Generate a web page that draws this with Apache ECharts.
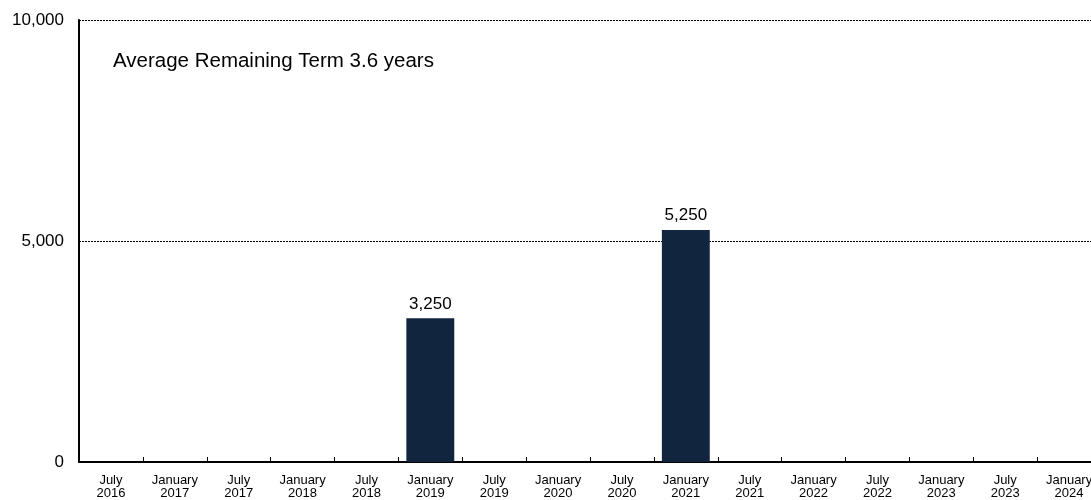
<!DOCTYPE html>
<html>
<head>
<meta charset="utf-8">
<script src="https://cdn.jsdelivr.net/npm/echarts@6/dist/echarts.min.js"></script>
<style>html,body{margin:0;padding:0;background:#fff}#c{width:1091px;height:500px}</style>
</head>
<body>
<div id="c"></div>
<script>
const categories = ["July\n2016","January\n2017","July\n2017","January\n2018","July\n2018","January\n2019","July\n2019","January\n2020","July\n2020","January\n2021","July\n2021","January\n2022","July\n2022","January\n2023","July\n2023","January\n2024"];
const values = [null,null,null,null,null,3250,null,null,null,5250,null,null,null,null,null,null];
const yTicks = [0, 5000, 10000];
const annotation = "Average Remaining Term 3.6 years";

const FONT = 'Liberation Sans, Arial, sans-serif';
const chart = echarts.init(document.getElementById('c'));
const fmt = v => v.toLocaleString('en-US');
chart.setOption({
  animation: false,
  textStyle: {fontFamily: FONT},
  grid: {left: 79, width: 1022, top: 20, bottom: 38, containLabel: false, outerBoundsMode: 'none'},
  xAxis: {
    type: 'category',
    data: categories,
    boundaryGap: true,
    axisLine: {lineStyle: {color: '#000', width: 2}},
    axisTick: {show: true, inside: true, length: 5, lineStyle: {color: '#000', width: 1}},
    axisLabel: {color: '#000', fontSize: 13, lineHeight: 13, margin: 12, interval: 0, hideOverlap: false}
  },
  yAxis: {
    type: 'value',
    min: yTicks[0], max: yTicks[yTicks.length-1], interval: 5000,
    axisLine: {show: true, lineStyle: {color: '#000', width: 2}},
    axisTick: {show: false},
    axisLabel: {color: '#000', fontSize: 17, margin: 15, formatter: fmt},
    splitLine: {show: true, lineStyle: {color: '#000', type: [2, 1], width: 1}}
  },
  series: [{
    type: 'bar',
    data: values,
    barWidth: '75%',
    itemStyle: {color: '#12253F'},
    label: {show: true, position: 'top', distance: 6, color: '#000', fontSize: 17, formatter: p => fmt(p.value)}
  }],
  graphic: [{
    type: 'text', x: 113, y: 61,
    style: {text: annotation, fill: '#000', font: '20.5px Liberation Sans, Arial, sans-serif', verticalAlign: 'middle'}
  }]
});
</script>
</body>
</html>
